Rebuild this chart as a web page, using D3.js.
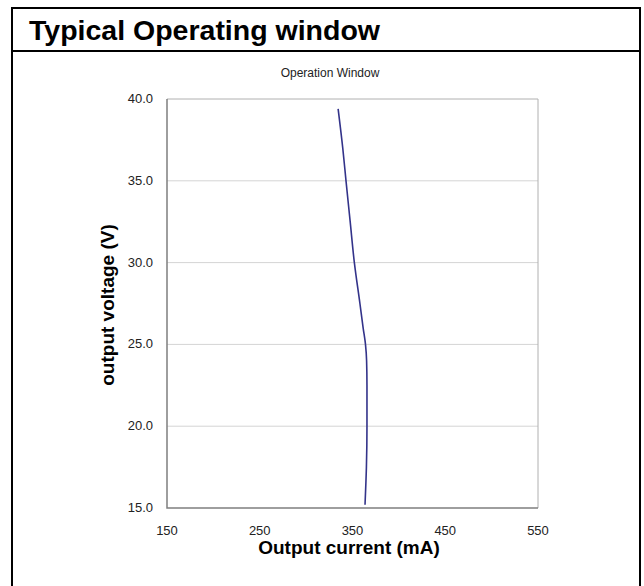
<!DOCTYPE html>
<html>
<head>
<meta charset="utf-8">
<script src="https://cdn.jsdelivr.net/npm/d3@7"></script>
<style>
body { margin: 0; background: #fff; }
svg { display: block; font-family: "Liberation Sans", Arial, sans-serif; }
</style>
</head>
<body>
<div id="chart"></div>
<script>
(function(){

var width = 644,
	height = 586;

// data
var voltage = [39.4, 37.0, 35.0, 32.5, 30.0, 27.5, 26.0, 25.0, 24.0, 22.5, 20.0, 17.5, 15.2];
var current = [334.5, 339.5, 343.0, 347.5, 352.0, 358.0, 361.5, 364.0, 365.2, 365.6, 365.6, 365.0, 363.5];

var xticks = [150, 250, 350, 450, 550];
var yticks = [15, 20, 25, 30, 35, 40];

var margin = {left: 167, top: 99, right: 538, bottom: 508};

var X = d3.scaleLinear().domain([150,550]).range([margin.left, margin.right]);
var Y = d3.scaleLinear().domain([15,40]).range([margin.bottom, margin.top]);

var svg = d3.select("#chart").append("svg")
	.attr("width", width)
	.attr("height", height);

// outer frame
svg.append("rect")
	.attr("x", 12).attr("y", 8)
	.attr("width", 628).attr("height", 600)
	.style("fill", "none").style("stroke", "#000").style("stroke-width", 2);

svg.append("line")
	.attr("x1", 12).attr("x2", 640).attr("y1", 51).attr("y2", 51)
	.style("stroke", "#000").style("stroke-width", 2);

svg.append("text")
	.attr("x", 29).attr("y", 40)
	.style("font-size", "28.5px").style("font-weight", "bold")
	.text("Typical Operating window");

svg.append("text")
	.attr("x", 330).attr("y", 77)
	.attr("text-anchor", "middle")
	.style("font-size", "12px")
	.style("fill", "#222")
	.text("Operation Window");

// grid
svg.selectAll(".grid").data(yticks.slice(1,-1)).enter().append("line")
	.attr("class", "grid")
	.attr("x1", margin.left).attr("x2", margin.right)
	.attr("y1", function(d){ return Y(d); }).attr("y2", function(d){ return Y(d); })
	.style("stroke", "#d4d4d4").style("stroke-width", 1);

// plot border
svg.append("path")
	.attr("d", "M"+margin.left+","+margin.top+"H"+margin.right+"V"+margin.bottom)
	.style("fill", "none").style("stroke", "#b0b0b0").style("stroke-width", 1);

svg.append("path")
	.attr("d", "M"+margin.left+","+margin.top+"V"+margin.bottom+"H"+margin.right)
	.style("fill", "none").style("stroke", "#7f7f7f").style("stroke-width", 1.5);

// tick labels
svg.selectAll(".ylab").data(yticks).enter().append("text")
	.attr("class", "ylab")
	.attr("x", 153)
	.attr("y", function(d){ return Y(d) + 4; })
	.attr("text-anchor", "end")
	.style("font-size", "13px").style("fill", "#222")
	.text(function(d){ return d3.format(".1f")(d); });

svg.selectAll(".xlab").data(xticks).enter().append("text")
	.attr("class", "xlab")
	.attr("x", function(d){ return X(d); })
	.attr("y", 535)
	.attr("text-anchor", "middle")
	.style("font-size", "13px").style("fill", "#222")
	.text(function(d){ return d; });

// axis titles
svg.append("text")
	.attr("x", 349).attr("y", 554)
	.attr("text-anchor", "middle")
	.style("font-size", "19px").style("font-weight", "bold")
	.text("Output current (mA)");

svg.append("text")
	.attr("transform", "translate(114,305) rotate(-90)")
	.attr("text-anchor", "middle")
	.style("font-size", "19px").style("font-weight", "bold")
	.text("output voltage (V)");

// curve
var pts = voltage.map(function(v,i){ return [current[i], v]; });

svg.append("path")
	.datum(pts)
	.attr("d", d3.line()
		.x(function(d){ return X(d[0]); })
		.y(function(d){ return Y(d[1]); })
		.curve(d3.curveMonotoneY))
	.style("fill", "none")
	.style("stroke", "#33338a")
	.style("stroke-width", 1.6);

})()
</script>
</body>
</html>
